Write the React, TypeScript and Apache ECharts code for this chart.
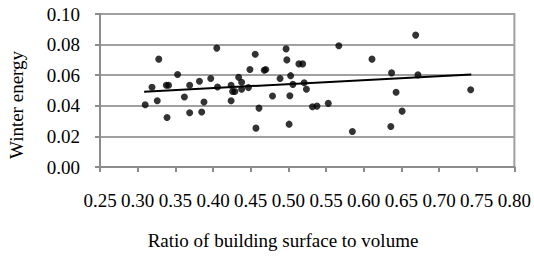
import React, { useEffect, useRef } from "react";
import * as echarts from "echarts";

const ratioValues: number[] = [
  0.31, 0.319, 0.328, 0.326, 0.339, 0.338, 0.341, 0.353, 0.362, 0.369,
  0.369, 0.382, 0.385, 0.388, 0.397, 0.405, 0.406, 0.424, 0.424, 0.426,
  0.429, 0.434, 0.438, 0.438, 0.447, 0.449, 0.456, 0.457, 0.461, 0.468,
  0.47, 0.479, 0.489, 0.497, 0.498, 0.501, 0.502, 0.503, 0.506, 0.514,
  0.519, 0.521, 0.524, 0.532, 0.538, 0.553, 0.567, 0.585, 0.611, 0.636,
  0.637, 0.643, 0.651, 0.669, 0.672, 0.742,
];
const winterEnergy: number[] = [
  0.0407, 0.0521, 0.0705, 0.0433, 0.0324, 0.0534, 0.0534, 0.0604, 0.0457, 0.0354,
  0.0534, 0.056, 0.0359, 0.0425, 0.0578, 0.0777, 0.0523, 0.0534, 0.0433, 0.0494,
  0.0494, 0.0586, 0.0554, 0.0508, 0.0519, 0.0637, 0.0737, 0.0254, 0.0385, 0.0632,
  0.0637, 0.0464, 0.0578, 0.0772, 0.07, 0.028, 0.0466, 0.0597, 0.054, 0.0674,
  0.0674, 0.0551, 0.0508, 0.0394, 0.0398, 0.0416, 0.0792, 0.0232, 0.0705, 0.0265,
  0.0615, 0.0488, 0.0365, 0.0862, 0.0602, 0.0505,
];
const trendX: number[] = [0.3086, 0.7428];
const trendY: number[] = [0.0492, 0.0604];

const xTickLabels: string[] = ["0.25", "0.30", "0.35", "0.40", "0.45", "0.50", "0.55", "0.60", "0.65", "0.70", "0.75", "0.80"];
const yTickLabels: string[] = ["0.00", "0.02", "0.04", "0.06", "0.08", "0.10"];

const xTitle = "Ratio of building surface to volume";
const yTitle = "Winter energy";

const FONT = "Liberation Serif";
const GRAY = "#a0a0a0";
const AXIS_GRAY = "#8c8c8c";

export default function App() {
  const ref = useRef<HTMLDivElement>(null);
  useEffect(() => {
    if (!ref.current) return;
    const chart = echarts.init(ref.current, null, { renderer: "svg" });
    chart.setOption({
      animation: false,
      backgroundColor: "#ffffff",
      textStyle: { fontFamily: FONT, fontSize: 19, color: "#000" },
      grid: {
        left: 100,
        right: 18,
        top: 14,
        bottom: 97,
        show: true,
        borderColor: GRAY,
        borderWidth: 2,
      },
      xAxis: {
        type: "value",
        min: 0.25,
        max: 0.8,
        interval: 0.05,
        axisLine: { show: true, lineStyle: { color: AXIS_GRAY, width: 2 } },
        axisTick: { show: true, length: 5, lineStyle: { color: AXIS_GRAY, width: 2 } },
        splitLine: { show: false },
        axisLabel: {
          margin: 24,
          color: "#000",
          fontFamily: FONT,
          fontSize: 19,
          showMaxLabel: true,
          showMinLabel: true,
          hideOverlap: false,
          formatter: (v: number) => xTickLabels[Math.round((v - 0.25) / 0.05)] ?? v.toFixed(2),
        },
      },
      yAxis: {
        type: "value",
        min: 0,
        max: 0.1,
        interval: 0.02,
        axisLine: { show: true, lineStyle: { color: AXIS_GRAY, width: 2 } },
        axisTick: { show: true, length: 5, lineStyle: { color: AXIS_GRAY, width: 2 } },
        splitLine: { show: true, lineStyle: { color: GRAY, width: 2 } },
        axisLabel: {
          margin: 20,
          color: "#000",
          fontFamily: FONT,
          fontSize: 19,
          formatter: (v: number) => yTickLabels[Math.round(v / 0.02)] ?? v.toFixed(2),
        },
      },
      graphic: [
        {
          type: "text",
          x: 283,
          y: 240,
          style: {
            text: xTitle,
            fill: "#000",
            fontFamily: FONT,
            fontSize: 19,
            textAlign: "center",
            textVerticalAlign: "middle",
          },
        },
        {
          type: "text",
          x: 16,
          y: 105,
          rotation: Math.PI / 2,
          style: {
            text: yTitle,
            fill: "#000",
            fontFamily: FONT,
            fontSize: 19,
            textAlign: "center",
            textVerticalAlign: "middle",
          },
        },
      ],
      series: [
        {
          type: "line",
          data: trendX.map((x, i) => [x, trendY[i]]),
          symbol: "none",
          lineStyle: { color: "#000", width: 2 },
          z: 3,
        },
        {
          type: "scatter",
          data: ratioValues.map((x, i) => [x, winterEnergy[i]]),
          symbol: "circle",
          symbolSize: 7,
          itemStyle: { color: "#000" },
          z: 4,
        },
      ],
    });
    return () => chart.dispose();
  }, []);
  return <div ref={ref} style={{ width: 534, height: 264, position: "absolute", left: 0, top: 0 }} />;
}
